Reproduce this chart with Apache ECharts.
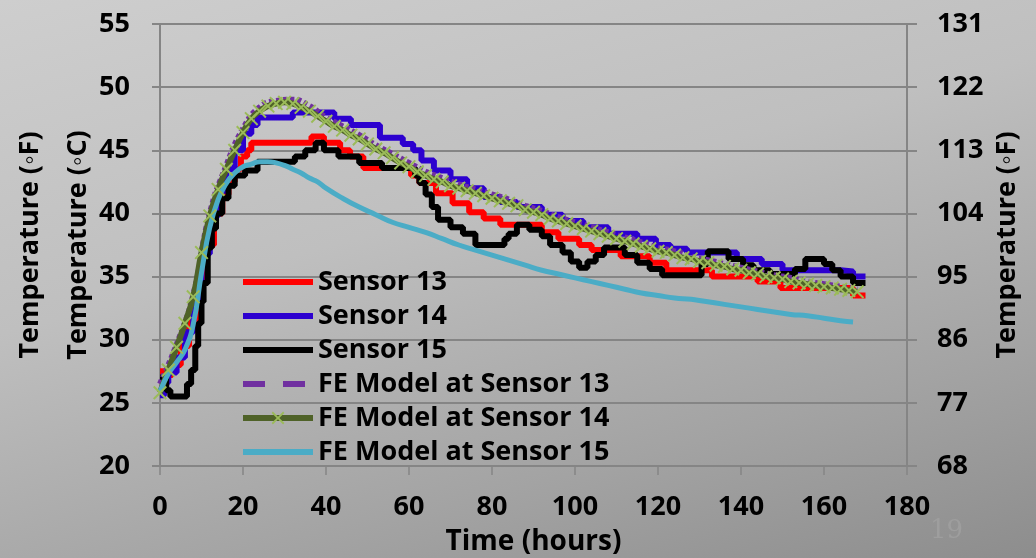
<!DOCTYPE html>
<html lang="en">
<head>
  <meta charset="UTF-8">
  <title>Temperature vs time</title>
  <script src="https://cdn.jsdelivr.net/npm/echarts@6/dist/echarts.min.js"></script>
  <style>
    html, body { margin: 0; padding: 0; }
    #chart {
      width: 1036px; height: 558px;
      background: linear-gradient(165deg, #cecece 0%, #bfbfbf 40%, #a3a3a3 75%, #8d8d8d 100%);
    }
  </style>
</head>
<body>
  <div id="chart"></div>
  <script>
    // series names
    const seriesNames = ['Sensor 13', 'Sensor 14', 'Sensor 15',
      'FE Model at Sensor 13', 'FE Model at Sensor 14', 'FE Model at Sensor 15'];

    // measured sensors: [hour, °C] at each step change
    const sensor13 = [[0,27.5],[1,27.2],[3,28.0],[5,29.5],[7,31.5],[9,34.5],[11,37.5],[13,40.0],[15,41.5],[16.5,42.5],[18,43.5],[19.5,44.5],[21,45.0],[22,45.6],[36.5,46.1],[39.5,45.6],[43.4,45.0],[45.8,44.5],[49,43.6],[60.5,43.0],[62.5,42.4],[66.5,41.6],[70.5,40.8],[74.5,40.1],[78,39.6],[82,39.1],[92,38.5],[96,38.0],[101,37.5],[104,37.1],[111,36.6],[118,36.1],[122,35.5],[133,35.0],[144,34.6],[149.5,34.1],[167,33.5],[170,33.5]];
    const sensor14 = [[0,25.6],[1,26.6],[2,27.4],[4,28.6],[6,30.6],[8,33.2],[10,36.8],[12,39.8],[14,41.8],[16,43.5],[18,45.0],[20,46.3],[22,47.0],[23.5,47.6],[32,48.0],[42,47.5],[46,47.0],[53,46.0],[58.5,45.5],[61,45.0],[63,44.2],[66,43.4],[70,42.7],[74,42.0],[78,41.3],[82,40.9],[86,40.5],[92,39.9],[97,39.4],[102,38.9],[108,38.4],[115,38.0],[119.5,37.5],[123,37.2],[127,36.9],[139,36.4],[145,36.0],[150,35.5],[164,35.4],[167,35.0],[170,35.0]];
    const sensor15 = [[0,27.0],[1.5,26.0],[2.5,25.5],[6.5,26.5],[7.5,27.6],[8.5,29.5],[9.2,31.3],[10,33.0],[10.5,34.5],[11.5,37.3],[12.5,38.8],[13.5,40.0],[15,41.2],[16.5,42.2],[18,43.0],[20.5,43.4],[23.5,44.1],[32.5,44.5],[35,45.0],[37.5,45.6],[39.5,45.0],[43,44.5],[48,44.0],[53.5,43.6],[61.5,43.0],[62.5,42.4],[64,41.5],[65.5,40.5],[67,39.5],[70,38.9],[73,38.4],[76,37.5],[83,38.0],[84,38.4],[86,39.1],[89,38.7],[92,38.2],[94,37.5],[97,36.9],[99,36.2],[101,35.7],[103,36.2],[105,36.7],[107,37.3],[112,36.7],[115,36.1],[118,35.6],[121,35.1],[130.5,36.0],[132,37.0],[137,36.4],[140.5,35.9],[143,35.5],[147,35.2],[153,35.6],[155.5,36.4],[160,36.0],[162,35.5],[164,35.0],[167,34.5],[170,34.5]];

    // FE model curves: [hour, °C]
    const fe13 = [[0,26.5],[4,29.6],[8,33.5],[12,40.0],[16,43.8],[20,46.7],[24,48.4],[28,48.9],[32,49.0],[36,48.5],[40,47.6],[44,46.9],[48,46.2],[52,45.4],[56,44.7],[60,44.0],[64,43.3],[68,42.8],[72,42.3],[76,41.9],[80,41.5],[84,41.1],[88,40.6],[92,40.2],[96,39.7],[100,39.3],[104,38.9],[108,38.5],[112,38.1],[116,37.7],[120,37.3],[124,37.0],[128,36.6],[132,36.3],[136,36.0],[140,35.7],[144,35.4],[148,35.1],[152,34.9],[156,34.6],[160,34.4],[164,34.2],[168,34.0]];
    const fe14Hours = [0,2,4,6,8,10,12,14,16,18,20,22,24,26,28,30,32,34,36,38,40,42,44,46,48,50,52,54,56,58,60,62,64,66,68,70,72,74,76,78,80,82,84,86,88,90,92,94,96,98,100,102,104,106,108,110,112,114,116,118,120,122,124,126,128,130,132,134,136,138,140,142,144,146,148,150,152,154,156,158,160,162,164,166,168];
    const fe14Temps = [25.8,27.6,29.4,31.3,33.4,36.9,39.8,41.9,43.5,45.0,46.4,47.5,48.1,48.5,48.7,48.8,48.7,48.4,48.1,47.7,47.3,46.9,46.6,46.2,45.9,45.5,45.1,44.8,44.4,44.0,43.7,43.3,43.0,42.7,42.5,42.2,42.0,41.8,41.6,41.4,41.2,41.0,40.8,40.6,40.3,40.1,39.9,39.6,39.4,39.2,39.0,38.8,38.6,38.4,38.2,38.0,37.8,37.6,37.4,37.2,37.0,36.9,36.7,36.5,36.4,36.2,36.1,35.9,35.8,35.6,35.5,35.3,35.2,35.0,34.9,34.8,34.6,34.5,34.4,34.3,34.2,34.1,34.0,33.9,33.8];
    const fe15 = [[0,25.9],[2,27.3],[4,28.2],[6,29.2],[8,31.2],[10,35.3],[12,38.9],[14,41.1],[16,42.4],[18,43.2],[20,43.7],[22,43.9],[24,44.1],[26,44.1],[28,44.0],[30,43.8],[32,43.5],[34,43.2],[36,42.8],[38,42.5],[40,42.0],[44,41.2],[48,40.5],[52,39.9],[56,39.3],[60,38.9],[64,38.5],[68,38.0],[72,37.5],[76,37.1],[80,36.7],[84,36.3],[88,35.9],[92,35.5],[96,35.2],[100,34.9],[104,34.6],[108,34.3],[112,34.0],[116,33.7],[120,33.5],[124,33.3],[128,33.2],[132,33.0],[136,32.8],[140,32.6],[144,32.4],[148,32.2],[152,32.0],[156,31.9],[160,31.7],[164,31.5],[167,31.4]];

    const fe14 = fe14Hours.map((h, i) => [h, fe14Temps[i]]);

    const font = 'Open Sans';
    const gridColor = '#858585';
    const crossPath = 'path://M0,1L1,0L5,4L9,0L10,1L6,5L10,9L9,10L5,6L1,10L0,9L4,5Z';
    const noMark = { opacity: 0 };

    const chart = echarts.init(document.getElementById('chart'));
    chart.setOption({
      backgroundColor: 'transparent',
      animation: false,
      textStyle: { fontFamily: font },
      grid: { left: 160, right: 129, top: 24, bottom: 92, containLabel: false, outerBoundsMode: 'none' },
      legend: {
        orient: 'vertical',
        left: 235, top: 262,
        itemWidth: 70, itemHeight: 16, itemGap: 4,
        lineStyle: { width: 6 },
        textStyle: { fontFamily: font, fontWeight: 'bold', fontSize: 27, color: '#000', lineHeight: 30 },
        data: [
          { name: seriesNames[0], itemStyle: noMark },
          { name: seriesNames[1], itemStyle: noMark },
          { name: seriesNames[2], itemStyle: noMark },
          { name: seriesNames[3], itemStyle: noMark, lineStyle: { width: 6, type: [22, 18] } },
          { name: seriesNames[4] },
          { name: seriesNames[5], itemStyle: noMark }
        ]
      },
      xAxis: {
        type: 'value', min: 0, max: 180, interval: 20,
        name: 'Time (hours)', nameLocation: 'middle', nameGap: 62,
        nameTextStyle: { fontFamily: font, fontWeight: 'bold', fontSize: 28, color: '#000' },
        axisLine: { lineStyle: { color: gridColor, width: 2 } },
        axisTick: { show: true, length: 9, lineStyle: { color: gridColor, width: 1.5 } },
        axisLabel: { fontFamily: font, fontWeight: 'bold', fontSize: 27, color: '#000', margin: 28 },
        splitLine: { show: false }
      },
      yAxis: [{
        type: 'value', min: 20, max: 55, interval: 5, position: 'left',
        name: 'Temperature (\u25E6F)\nTemperature (\u25E6C)', nameLocation: 'middle', nameRotate: 90,
        nameGap: 58, nameMoveOverlap: false,
        nameTextStyle: { fontFamily: font, fontWeight: 'bold', fontSize: 27, color: '#000', lineHeight: 48 },
        axisLine: { show: true, lineStyle: { color: gridColor, width: 2 } },
        axisTick: { show: true, length: 8, lineStyle: { color: gridColor, width: 2 } },
        axisLabel: { fontFamily: font, fontWeight: 'bold', fontSize: 27, color: '#000', margin: 30 },
        splitLine: { lineStyle: { color: gridColor, width: 2 } }
      }, {
        type: 'value', min: 68, max: 131, interval: 9, position: 'right',
        name: 'Temperature (\u25E6F)', nameLocation: 'middle', nameRotate: 90, nameGap: 87,
        nameTextStyle: { fontFamily: font, fontWeight: 'bold', fontSize: 27, color: '#000' },
        axisLine: { show: true, lineStyle: { color: gridColor, width: 2 } },
        axisTick: { show: true, length: 10, lineStyle: { color: gridColor, width: 2 } },
        axisLabel: { fontFamily: font, fontWeight: 'bold', fontSize: 27, color: '#000', margin: 30 },
        splitLine: { show: false }
      }],
      graphic: [{
        type: 'text', left: 930, top: 518,
        style: { text: '19', fontFamily: 'DejaVu Serif', fontSize: 26, fill: '#9e9e9e' }
      }],
      series: [
        { name: seriesNames[0], type: 'line', step: 'end', data: sensor13, symbol: 'none',
          lineStyle: { color: '#ff0000', width: 6 }, itemStyle: { color: '#ff0000' } },
        { name: seriesNames[1], type: 'line', step: 'end', data: sensor14, symbol: 'none',
          lineStyle: { color: '#2c00cf', width: 6 }, itemStyle: { color: '#2c00cf' } },
        { name: seriesNames[2], type: 'line', step: 'end', data: sensor15, symbol: 'none',
          lineStyle: { color: '#000000', width: 6 }, itemStyle: { color: '#000000' } },
        { name: seriesNames[3], type: 'line', smooth: true, data: fe13, symbol: 'none',
          lineStyle: { color: '#7030a0', width: 6, type: [4, 3] }, itemStyle: { color: '#7030a0' } },
        { name: seriesNames[4], type: 'line', smooth: true, data: fe14,
          symbol: crossPath, symbolSize: 14, showSymbol: true, showAllSymbol: true,
          lineStyle: { color: '#4f6228', width: 6 }, itemStyle: { color: '#9bbb59' } },
        { name: seriesNames[5], type: 'line', smooth: true, data: fe15, symbol: 'none',
          lineStyle: { color: '#4bacc6', width: 5 }, itemStyle: { color: '#4bacc6' } }
      ]
    });
  </script>
</body>
</html>
